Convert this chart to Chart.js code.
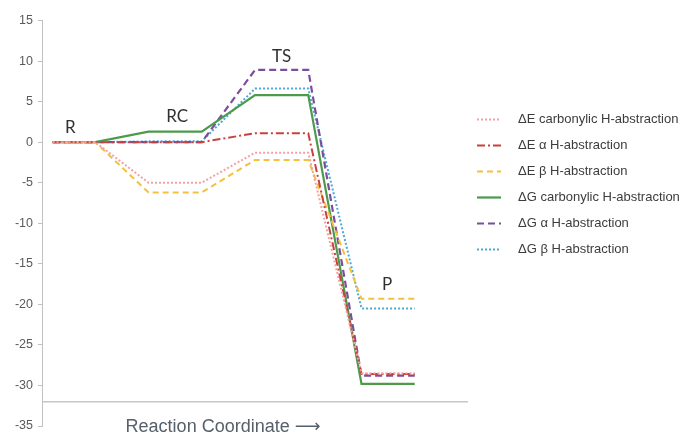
<!DOCTYPE html>
<html>
<head>
<meta charset="utf-8">
<script src="https://cdn.jsdelivr.net/npm/chart.js@4/dist/chart.umd.min.js"></script>
<style>
  html, body { margin: 0; padding: 0; background: #fff; }
  #wrap { width: 684px; height: 434px; }
</style>
</head>
<body>
<div id="wrap"><canvas id="c" width="684" height="434"></canvas></div>
<script>
// Reaction coordinate positions (start/end of each plateau: R, RC, TS, P)
const xPositions = [0.2, 1, 2, 3, 4, 5, 6, 7];
const stageLabels = ['R', 'RC', 'TS', 'P'];
const seriesNames = [
  'ΔE carbonylic H-abstraction',
  'ΔE α H-abstraction',
  'ΔE β H-abstraction',
  'ΔG carbonylic H-abstraction',
  'ΔG α H-abstraction',
  'ΔG β H-abstraction'
];
const dECarbonylic = [0, 0, -5.0, -5.0, -1.3, -1.3, -28.5, -28.5];
const dEAlpha      = [0, 0, 0.0, 0.0, 1.1, 1.1, -28.6, -28.6];
const dEBeta       = [0, 0, -6.2, -6.2, -2.2, -2.2, -19.3, -19.3];
const dGCarbonylic = [0, 0, 1.3, 1.3, 5.8, 5.8, -29.8, -29.8];
const dGAlpha      = [0, 0, 0.0, 0.0, 8.9, 8.9, -28.8, -28.8];
const dGBeta       = [0, 0, 0.1, 0.1, 6.6, 6.6, -20.5, -20.5];
const yTicks = [15, 10, 5, 0, -5, -10, -15, -20, -25, -30, -35];
const axisTitle = 'Reaction Coordinate \u27F6';
const axisCrossValue = -32;

const seriesValues = [dECarbonylic, dEAlpha, dEBeta, dGCarbonylic, dGAlpha, dGBeta];
const styles = [
  { color: '#f2a2a0', dash: [2, 2], width: 2 },
  { color: '#c8413e', dash: [8, 3, 2, 3], width: 2 },
  { color: '#f5c03c', dash: [6, 4], width: 2 },
  { color: '#4c9a4a', dash: [], width: 2.2 },
  { color: '#7a4e9c', dash: [7, 4], width: 2.2 },
  { color: '#4fa9d6', dash: [2, 2], width: 2 }
];

const datasets = seriesValues.map((vals, i) => ({
  label: seriesNames[i],
  data: vals.map((v, j) => ({ x: xPositions[j], y: v })),
  borderColor: styles[i].color,
  backgroundColor: styles[i].color,
  borderDash: styles[i].dash,
  borderWidth: styles[i].width,
  pointRadius: 0,
  tension: 0,
  fill: false
}));

const textPlugin = {
  id: 'textPlugin',
  afterDraw(chart, args, opts) {
    const ctx = chart.ctx;
    const xs = chart.scales.x, ys = chart.scales.y;
    const area = chart.chartArea;
    ctx.save();
    // horizontal axis line crossing at axisCrossValue
    const yc = ys.getPixelForValue(axisCrossValue);
    ctx.strokeStyle = '#c6c6c6';
    ctx.lineWidth = 1.5;
    ctx.beginPath();
    ctx.moveTo(area.left, yc);
    ctx.lineTo(area.right, yc);
    ctx.stroke();
    // stage labels
    ctx.fillStyle = '#303030';
    ctx.font = '17px Lato, "Liberation Sans", sans-serif';
    ctx.textAlign = 'center';
    ctx.textBaseline = 'middle';
    opts.stagePos.forEach((p, i) => {
      ctx.fillText(stageLabels[i], xs.getPixelForValue(p[0]), ys.getPixelForValue(p[1]));
    });
    // axis title
    ctx.fillStyle = '#56606a';
    ctx.font = '18px "Liberation Sans", Arial, "DejaVu Sans", sans-serif';
    ctx.fillText(axisTitle, xs.getPixelForValue(opts.titlePos[0]), ys.getPixelForValue(opts.titlePos[1]));
    // legend
    ctx.textAlign = 'left';
    ctx.font = '13px "Liberation Sans", Arial, sans-serif';
    chart.data.datasets.forEach((ds, i) => {
      const y = opts.legend.top + i * opts.legend.step;
      ctx.strokeStyle = ds.borderColor;
      ctx.lineWidth = ds.borderWidth;
      ctx.setLineDash(ds.borderDash);
      ctx.beginPath();
      ctx.moveTo(opts.legend.x0, y);
      ctx.lineTo(opts.legend.x1, y);
      ctx.stroke();
      ctx.setLineDash([]);
      ctx.fillStyle = '#3c3c3c';
      ctx.fillText(ds.label, opts.legend.tx, y);
    });
    ctx.restore();
  }
};

new Chart(document.getElementById('c'), {
  type: 'line',
  data: { datasets },
  plugins: [textPlugin],
  options: {
    responsive: false,
    devicePixelRatio: 1,
    animation: false,
    layout: { padding: { left: 0, top: 20.5, right: 216, bottom: 8 } },
    plugins: {
      legend: { display: false },
      tooltip: { enabled: false },
      textPlugin: {
        stagePos: [[0.53, 1.85], [2.54, 3.1], [4.5, 10.6], [6.48, -17.5]],
        titlePos: [3.4, -35.1],
        legend: { top: 119.5, step: 26, x0: 477, x1: 501, tx: 518 }
      }
    },
    scales: {
      x: { type: 'linear', min: 0, max: 8, display: false },
      y: {
        min: -35, max: 15,
        afterBuildTicks(scale) { scale.ticks = yTicks.map(v => ({ value: v })); },
        afterFit(scale) { scale.width = 42; scale.paddingTop = 0; scale.paddingBottom = 0; },
        grid: { display: true, drawOnChartArea: false, drawTicks: true, tickLength: 4, color: '#c0c0c0' },
        border: { display: true, color: '#c0c0c0', width: 1 },
        ticks: { color: '#5a5a5a', font: { family: '"Liberation Sans", Arial, sans-serif', size: 12.5 }, padding: 5 }
      }
    }
  }
});
</script>
</body>
</html>
